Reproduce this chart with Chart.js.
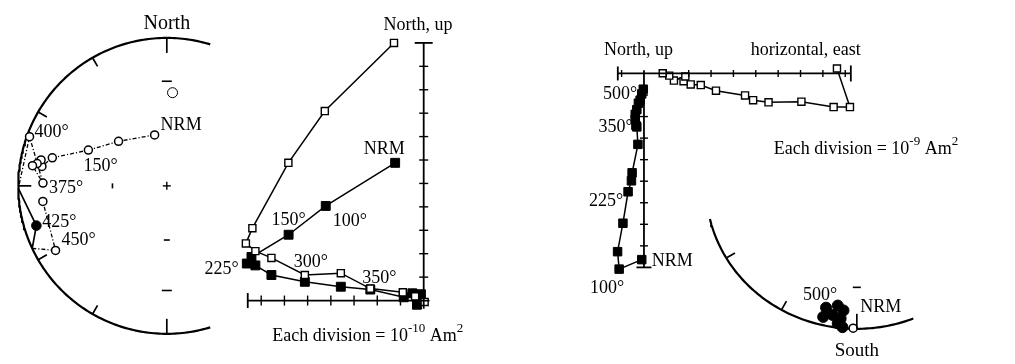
<!DOCTYPE html>
<html>
<head>
<meta charset="utf-8">
<title>Demagnetization diagrams</title>
<script src="https://cdn.jsdelivr.net/npm/chart.js@4.4.1/dist/chart.umd.min.js"></script>
<style>
  html, body { margin: 0; padding: 0; background: #fff; }
  #page { position: relative; width: 1015px; height: 364px; overflow: hidden; background: #fff; }
  #page canvas { position: absolute; }
</style>
</head>
<body>
<div id="page">
  <canvas id="net-left"></canvas>
  <canvas id="zij-left"></canvas>
  <canvas id="zij-right"></canvas>
  <canvas id="net-right"></canvas>
</div>
<script>
// ---- values ----

// left specimen, equal-area net: declination / inclination (negative = upper hemisphere, open symbol)
const netLeftDec   = [346.6, 312.8, 294.6, 283.8, 278.9, 281.7, 279.8, 278.6, 271.3, 289.8, 253.0, 239.8, 262.8];
const netLeftInc   = [-61.0, -53.5, -41.5, -21.7, -16.0, -14.6, -12.4,  -9.4, -17.7,  -2.0,   9.0, -14.4, -17.0];
const netLeftSteps = ['NRM', '', '150°', '', '', '', '', '', '375°', '400°', '425°', '450°', ''];
const netLeftCross = [269, 245];   // declinations where the path crosses the primitive
const netLeftRef   = [3.5, -37];   // dashed circle

// left specimen, orthogonal plot (1 division = 1e-10 Am2)
const zijLeftHorX = [-1.28, -4.26, -5.83, -7.38, -7.66, -7.25, -6.56, -5.12, -3.57, -2.30, -0.90, -0.37, 0.04];
const zijLeftHorY = [11.00, 8.09, 5.88, 3.09, 2.44, 2.11, 1.82, 1.09, 1.17, 0.51, 0.35, 0.18, -0.06];
const zijLeftHorSteps = ['', '', '', '', '', '', '', '300°', '', '350°', '', '', ''];
const zijLeftVerX = [-1.23, -4.22, -5.82, -7.42, -7.62, -7.25, -6.56, -5.12, -3.57, -2.30, -0.86, -0.49, -0.12, -0.29];
const zijLeftVerY = [5.88, 4.04, 2.81, 1.86, 1.58, 1.50, 1.09, 0.80, 0.59, 0.47, 0.14, 0.31, 0.27, -0.18];
const zijLeftVerSteps = ['NRM', '100°', '150°', '', '225°', '', '', '', '', '', '', '', '', ''];
const zijLeftTicksX = [-7, -6, -5, -4, -3, -2, -1];
const zijLeftTicksY = [1, 2, 3, 4, 5, 6, 7, 8, 9, 10];
const zijLeftAxisX = [-7.58, 0.25];
const zijLeftAxisY = [-0.35, 11];

// right specimen, orthogonal plot (1 division = 1e-9 Am2)
const zijRightHorX = [8.63, 9.21, 8.48, 7.04, 5.57, 4.88, 4.52, 3.22, 2.54, 2.09, 1.77, 1.85, 1.34, 1.13, 0.84];
const zijRightHorY = [0.23, -1.56, -1.56, -1.31, -1.34, -1.24, -1.02, -0.80, -0.54, -0.51, -0.36, -0.14, -0.33, -0.10, 0.01];
const zijRightVerX = [-0.10, -1.11, -1.18, -0.94, -0.71, -0.56, -0.53, -0.27, -0.32, -0.36, -0.39, -0.39, -0.32, -0.25, -0.17, -0.10, -0.03];
const zijRightVerY = [-8.64, -9.08, -8.27, -6.95, -5.49, -4.98, -4.61, -3.29, -2.48, -2.41, -2.12, -1.90, -1.68, -1.38, -1.24, -0.95, -0.73];
const zijRightVerSteps = ['NRM', '100°', '', '', '225°', '', '', '', '350°', '', '', '', '', '', '', '', '500°'];
const zijRightTicksX = [-1, 1, 2, 3, 4, 5, 6, 7, 8, 9];
const zijRightTicksY = [-1, -2, -3, -4, -5, -6, -7, -8];
const zijRightAxisX = [-1.17, 9.25];
const zijRightAxisY = [-9, 0.15];

// right specimen, equal-area net
const netRightDec   = [193.5, 188.6, 185.8, 193.7, 190.0, 186.6, 187.5, 185.5, 181.4];
const netRightInc   = [13.6, 16.6, 13.6, 6.4, 9.2, 7.4, 3.4, 0.8, -0.5];
const netRightSteps = ['500°', '', '', '', '', '', '', '', 'NRM'];

// label placement (px offsets from the point, alignment)
const labelPlace = {
  netLeft: { 'NRM': [6, -5, 'left'], '150°': [-5, 21, 'left'], '375°': [6, 10, 'left'], '400°': [5, 0, 'left'], '425°': [6, 1, 'left'], '450°': [6, -5, 'left'] },
  zijLeftHor: { '300°': [-11, -8, 'left'], '350°': [-8, -6, 'left'] },
  zijLeftVer: { 'NRM': [-11, -9, 'center'], '100°': [7, 20, 'left'], '150°': [-17, -10, 'left'], '225°': [-8, 10, 'right'] },
  zijRightVer: { 'NRM': [10, 6, 'left'], '100°': [5, 24, 'right'], '225°': [-5, 14, 'right'], '350°': [-4, 5, 'right'], '500°': [-6, 10, 'right'] },
  netRight: { '500°': [-23, -8, 'left'], 'NRM': [7, -16, 'left'] }
};

const FONT = '"Liberation Serif", "Times New Roman", serif';
const deg = Math.PI / 180;
const decor = {};

// equal-area (Schmidt) projection, unit radius
function project(dec, inc) {
  const r = Math.SQRT2 * Math.sin((90 - Math.abs(inc)) / 2 * deg);
  return { x: r * Math.sin(dec * deg), y: r * Math.cos(dec * deg) };
}

function frame(box, origin, unit) {
  return {
    xMin: (box.left - origin.x) / unit.x,
    xMax: (box.left + box.w - origin.x) / unit.x,
    yMin: (origin.y - box.top - box.h) / unit.y,
    yMax: (origin.y - box.top) / unit.y
  };
}

function hTick(x, y, half, w) { return { x1: x, y1: y, x2: x, y2: y, ox1: -half, ox2: half, w: w || 1.4 }; }
function vTick(x, y, half, w) { return { x1: x, y1: y, x2: x, y2: y, oy1: -half, oy2: half, w: w || 1.4 }; }

function rimTicks(azList, lenFor) {
  return azList.map(az => {
    const p = project(az, 0), L = lenFor(az);
    return { x1: p.x, y1: p.y, x2: p.x, y2: p.y, ox2: -Math.sin(az * deg) * L, oy2: Math.cos(az * deg) * L, w: 1.7 };
  });
}

function rimArc(from, to) {
  const pts = [];
  for (let a = from; a <= to; a += 1) pts.push(project(a, 0));
  return pts;
}

function stepLabels(points, steps, place) {
  const out = [];
  steps.forEach((s, i) => {
    if (!s || !place[s]) return;
    const [dx, dy, align] = place[s];
    out.push({ x: points[i].x, y: points[i].y, dx, dy, align, text: s });
  });
  return out;
}

const paleo = {
  id: 'paleo',
  afterDatasetsDraw(chart) {
    const spec = decor[chart.canvas.id];
    if (!spec) return;
    const { ctx } = chart;
    const sx = chart.scales.x, sy = chart.scales.y;
    ctx.save();
    ctx.strokeStyle = '#000';
    ctx.fillStyle = '#000';
    (spec.segments || []).forEach(s => {
      ctx.lineWidth = s.w || 1.4;
      ctx.beginPath();
      ctx.moveTo(sx.getPixelForValue(s.x1) + (s.ox1 || 0), sy.getPixelForValue(s.y1) + (s.oy1 || 0));
      ctx.lineTo(sx.getPixelForValue(s.x2) + (s.ox2 || 0), sy.getPixelForValue(s.y2) + (s.oy2 || 0));
      ctx.stroke();
    });
    ctx.textAlign = 'left';
    ctx.textBaseline = 'alphabetic';
    (spec.texts || []).forEach(t => {
      const size = t.size || 18;
      const runs = Array.isArray(t.text) ? t.text : [{ t: t.text }];
      const widths = runs.map(r => {
        ctx.font = (r.sup ? 13 : size) + 'px ' + FONT;
        return ctx.measureText(r.t).width;
      });
      const total = widths.reduce((a, b) => a + b, 0);
      let px = sx.getPixelForValue(t.x) + (t.dx || 0);
      const py = sy.getPixelForValue(t.y) + (t.dy || 0);
      if (t.align === 'center') px -= total / 2;
      else if (t.align === 'right') px -= total;
      runs.forEach((r, i) => {
        ctx.font = (r.sup ? 13 : size) + 'px ' + FONT;
        ctx.fillText(r.t, px, r.sup ? py - 9 : py);
        px += widths[i];
      });
    });
    ctx.restore();
  }
};

function makeChart(id, box, fr, datasets, spec) {
  const cv = document.getElementById(id);
  cv.width = box.w;
  cv.height = box.h;
  cv.style.left = box.left + 'px';
  cv.style.top = box.top + 'px';
  cv.style.width = box.w + 'px';
  cv.style.height = box.h + 'px';
  decor[id] = spec;
  return new Chart(cv, {
    type: 'scatter',
    data: { datasets },
    options: {
      responsive: false,
      animation: false,
      devicePixelRatio: 1,
      events: [],
      layout: { padding: 0 },
      plugins: { legend: { display: false }, tooltip: { enabled: false } },
      scales: {
        x: { type: 'linear', display: false, min: fr.xMin, max: fr.xMax },
        y: { type: 'linear', display: false, min: fr.yMin, max: fr.yMax }
      }
    },
    plugins: [paleo]
  });
}

const openPts = (data, r) => ({ data, clip: false, pointStyle: 'circle', pointRadius: r, pointBackgroundColor: '#fff', pointBorderColor: '#000', pointBorderWidth: 1.5, showLine: false });
const filledPts = (data, r) => ({ data, clip: false, pointStyle: 'circle', pointRadius: r, pointBackgroundColor: '#000', pointBorderColor: '#000', pointBorderWidth: 1, showLine: false });
const openSq = (data, r) => ({ data, clip: false, pointStyle: 'rect', pointRadius: r, pointBackgroundColor: '#fff', pointBorderColor: '#000', pointBorderWidth: 1.4, showLine: false });
const filledSq = (data, r) => ({ data, clip: false, pointStyle: 'rect', pointRadius: r, pointBackgroundColor: '#000', pointBorderColor: '#000', pointBorderWidth: 1, showLine: false });
const path = (data, w, dash) => ({ data, clip: false, showLine: true, pointRadius: 0, borderColor: '#000', borderWidth: w, borderDash: dash || [], tension: 0 });

// ---------- left equal-area net ----------
{
  const box = { left: 0, top: 0, w: 222, h: 364 };
  const fr = frame(box, { x: 170, y: 186 }, { x: 157, y: 153 });
  const pts = netLeftDec.map((d, i) => project(d, netLeftInc[i]));
  const cross = netLeftCross.map(d => project(d, 0));
  const upper = pts.filter((p, i) => netLeftInc[i] < 0);
  const lower = pts.filter((p, i) => netLeftInc[i] >= 0);
  const dashDot = [4, 2, 1.2, 2];
  const segments = rimTicks([180, 210, 240, 270, 300, 330, 360],
    az => (az % 180 === 0 ? 15 : az === 270 ? 13 : 10));
  const c = project(0, 90);
  segments.push(hTick(c.x, c.y, 4), vTick(c.x, c.y, 4));
  const n30 = project(0, 30), s60 = project(180, 60), s30 = project(180, 30), w60 = project(270, 60);
  segments.push(hTick(n30.x, n30.y, 5, 1.6), hTick(s60.x, s60.y, 3, 1.6), hTick(s30.x, s30.y, 5, 1.6), vTick(w60.x, w60.y, 2.5, 1.6));
  const top = project(0, 0);
  const texts = [{ x: top.x, y: top.y, dy: -9, align: 'center', size: 20, text: 'North' }]
    .concat(stepLabels(pts, netLeftSteps, labelPlace.netLeft));
  makeChart('net-left', box, fr, [
    { data: [project(netLeftRef[0], netLeftRef[1])], clip: false, pointRadius: 5, pointBackgroundColor: 'rgba(0,0,0,0)', pointBorderColor: '#000', pointBorderWidth: 1, showLine: false },
    openPts(upper, 4),
    filledPts(lower, 4.8),
    path(pts.slice(0, 10).concat([cross[0]]), 1.3, dashDot),
    path([cross[0], pts[10], cross[1]], 1.7),
    path([cross[1], pts[11], pts[12]], 1.3, dashDot),
    path(rimArc(163, 377), 2.2)
  ], { segments, texts });
}

// ---------- left orthogonal plot ----------
{
  const box = { left: 170, top: 0, w: 300, h: 364 };
  const fr = frame(box, { x: 429, y: 305.5 }, { x: 24.4, y: 24.4 });
  const hor = zijLeftHorX.map((x, i) => ({ x, y: zijLeftHorY[i] }));
  const ver = zijLeftVerX.map((x, i) => ({ x, y: zijLeftVerY[i] }));
  const segments = [
    { x1: zijLeftAxisX[0], y1: 0, x2: zijLeftAxisX[1], y2: 0, w: 1.8 },
    { x1: 0, y1: zijLeftAxisY[0], x2: 0, y2: zijLeftAxisY[1], w: 1.8 },
    vTick(zijLeftAxisX[0], 0, 7.5, 1.8),
    hTick(0, zijLeftAxisY[1], 9, 1.8)
  ];
  zijLeftTicksX.forEach(u => segments.push(vTick(u, 0, 5)));
  zijLeftTicksY.forEach(v => segments.push(hTick(0, v, 4.5)));
  const texts = [
    { x: -0.25, y: zijLeftAxisY[1], dy: -13, align: 'center', text: 'North, up' },
    { x: -6.52, y: 0, dy: 40.5, align: 'left', text: [{ t: 'Each division = 10' }, { t: '-10', sup: true }, { t: ' Am' }, { t: '2', sup: true }] }
  ].concat(stepLabels(hor, zijLeftHorSteps, labelPlace.zijLeftHor))
   .concat(stepLabels(ver, zijLeftVerSteps, labelPlace.zijLeftVer));
  makeChart('zij-left', box, fr, [
    openSq(hor, 5),
    filledSq(ver, 6.3),
    path(hor, 1.5),
    path(ver, 1.5)
  ], { segments, texts });
}

// ---------- right orthogonal plot ----------
{
  const box = { left: 575, top: 30, w: 440, h: 265 };
  const fr = frame(box, { x: 639, y: 68.5 }, { x: 23.1, y: 22.75 });
  const hor = zijRightHorX.map((x, i) => ({ x, y: zijRightHorY[i] }));
  const ver = zijRightVerX.map((x, i) => ({ x, y: zijRightVerY[i] }));
  const segments = [
    { x1: zijRightAxisX[0], y1: 0, x2: zijRightAxisX[1], y2: 0, w: 1.8 },
    { x1: 0, y1: zijRightAxisY[0], x2: 0, y2: zijRightAxisY[1], w: 1.8 },
    vTick(zijRightAxisX[0], 0, 7, 1.8),
    vTick(zijRightAxisX[1], 0, 8, 1.8),
    hTick(0, zijRightAxisY[0], 7.5, 1.8)
  ];
  zijRightTicksX.forEach(u => segments.push(vTick(u, 0, 3.5)));
  zijRightTicksY.forEach(v => segments.push(hTick(0, v, 4)));
  const texts = [
    { x: -0.24, y: 0, dy: -18.5, align: 'center', text: 'North, up' },
    { x: 7.23, y: 0, dy: -18.5, align: 'center', text: 'horizontal, east' },
    { x: 5.8, y: 0, dy: 80.5, align: 'left', text: [{ t: 'Each division = 10' }, { t: '-9', sup: true }, { t: ' Am' }, { t: '2', sup: true }] }
  ].concat(stepLabels(ver, zijRightVerSteps, labelPlace.zijRightVer));
  makeChart('zij-right', box, fr, [
    openSq(hor, 5),
    filledSq(ver, 6),
    path(hor, 1.5),
    path(ver, 1.5)
  ], { segments, texts });
}

// ---------- right equal-area net ----------
{
  const box = { left: 690, top: 190, w: 325, h: 174 };
  const fr = frame(box, { x: 857, y: 180 }, { x: 157, y: 153 });
  const pts = netRightDec.map((d, i) => project(d, netRightInc[i]));
  const upper = pts.filter((p, i) => netRightInc[i] < 0);
  const lower = pts.filter((p, i) => netRightInc[i] >= 0);
  const segments = rimTicks([180, 210, 240], az => (az === 180 ? 15 : 10));
  const s30 = project(180, 30);
  segments.push(hTick(s30.x, s30.y, 4, 1.6));
  const bottom = project(180, 0);
  const texts = [{ x: bottom.x, y: bottom.y, dy: 27, align: 'center', size: 19, text: 'South' }]
    .concat(stepLabels(pts, netRightSteps, labelPlace.netRight));
  makeChart('net-right', box, fr, [
    openPts(upper, 4),
    filledPts(lower, 5.5),
    path(rimArc(158, 257), 2.2)
  ], { segments, texts });
}
</script>
</body>
</html>
